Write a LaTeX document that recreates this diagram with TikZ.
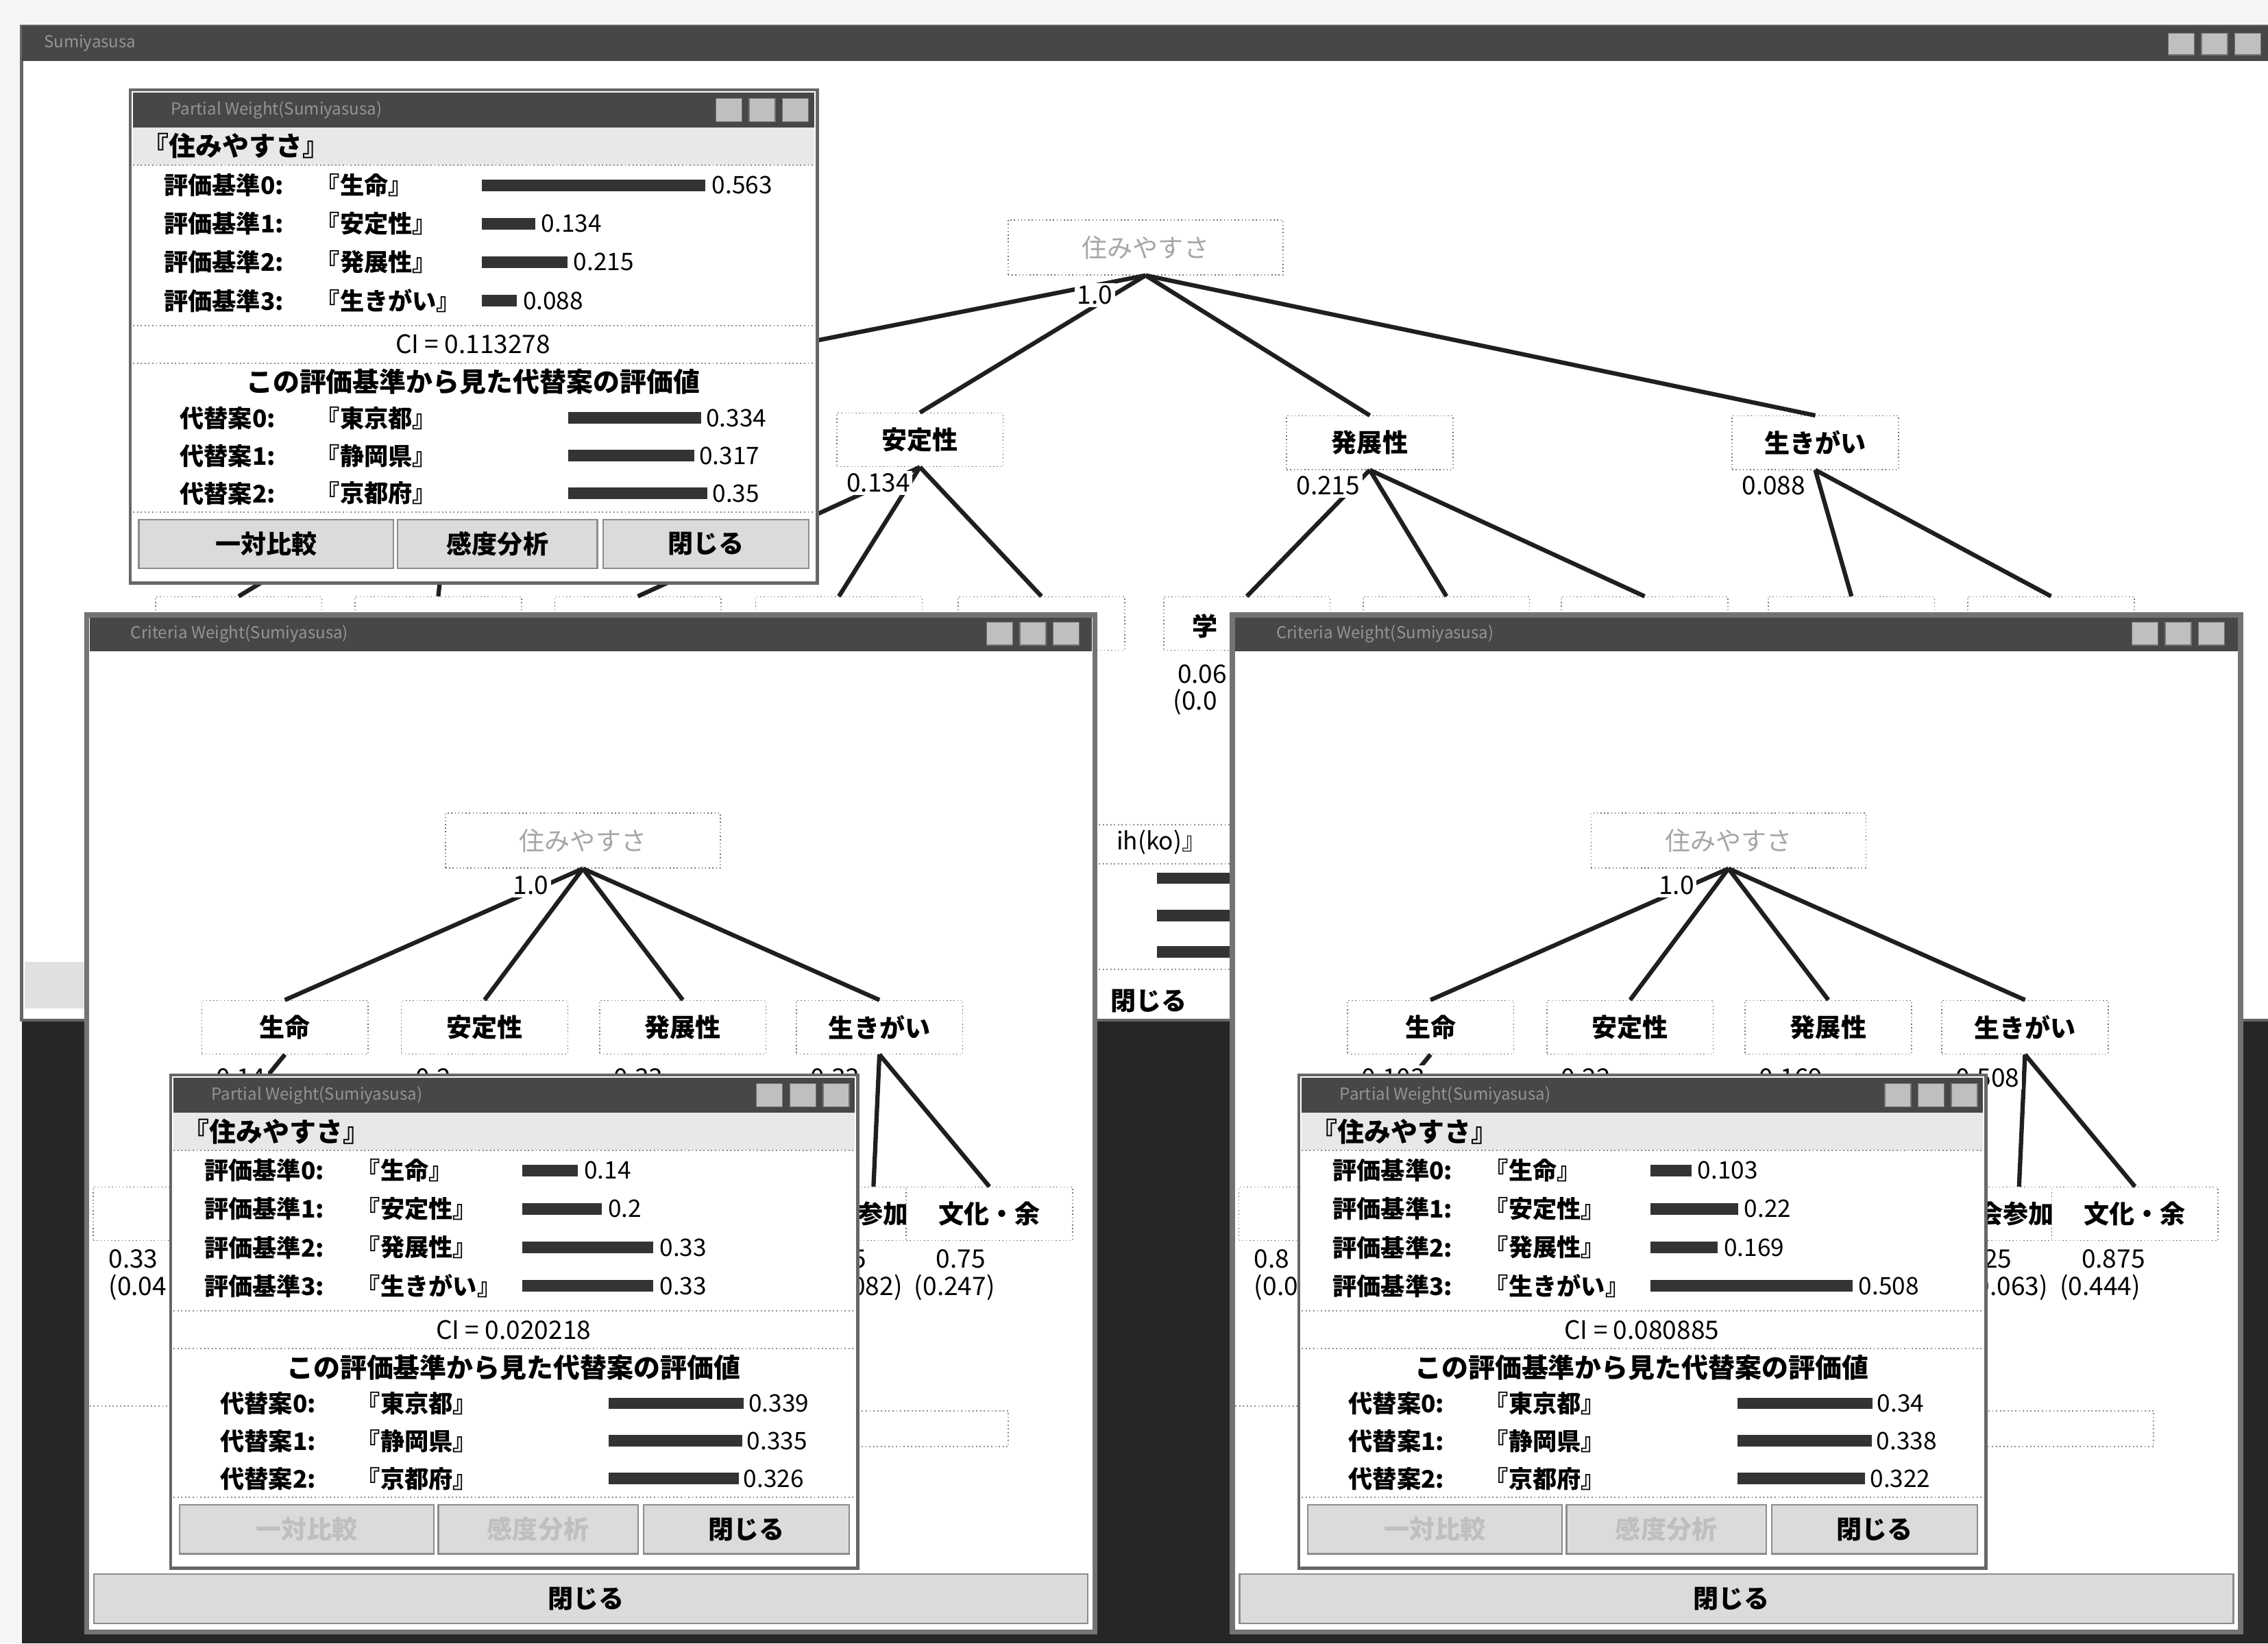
\documentclass[tikz,border=0pt]{standalone}
\usepackage{fontspec}
\setmainfont{Noto Sans CJK JP}
\usetikzlibrary{calc}

\tikzset{
  winborder/.style={draw=black!60, line width=1.2pt, fill=white},
  titlebar/.style={fill=black!72},
  titletext/.style={text=black!42, font=\fontsize{6.5}{7}\selectfont, anchor=west, inner sep=0pt},
  tbutton/.style={fill=black!25, draw=black!55, line width=0.4pt},
  sep/.style={draw=black!45, densely dotted, line width=0.5pt},
  bar/.style={fill=black!80},
  button/.style={fill=black!14, draw=black!45, line width=0.6pt},
  rowtext/.style={anchor=west, inner sep=0pt, font=\fontsize{9.5}{10}\selectfont\bfseries},
  numtext/.style={anchor=west, inner sep=0pt, font=\fontsize{9.5}{10}\selectfont},
  hnode/.style={draw=black!55, densely dotted, fill=white, minimum width=2.3cm,
    minimum height=0.74cm, inner sep=0pt, font=\fontsize{10}{11}\selectfont\bfseries},
  rootnode/.style={hnode, minimum width=3.8cm, minimum height=0.76cm, text=black!35,
    font=\fontsize{10}{11}\selectfont},
  link/.style={line width=1.7pt, draw=black!88},
  val/.style={inner sep=1pt, fill=white, font=\fontsize{10}{11}\selectfont},
}

% window with the weights of the criteria and of the alternatives
\newcommand{\weightwin}[6]{%
  \begin{scope}[shift={#1}]
    \draw[winborder] (0,0) rectangle (475,341);
    \fill[titlebar] (2,2) rectangle (473,26);
    \node[titletext] at (28,14) {#2};
    \foreach \bx in {405,428,451}
      \draw[tbutton] (\bx,6) rectangle ++(18,16);
    \fill[black!9] (2,26) rectangle (473,52);
    \node[rowtext, font=\fontsize{10.5}{11}\selectfont\bfseries] at (8,39) {『住みやすさ』};
    \draw[sep] (2,52) -- (473,52);
    % criteria
    \foreach \nm/\v [count=\k from 0] in {#3} {
      \node[rowtext] at (23,{66+26.6*\k}) {評価基準\k:};
      \node[rowtext] at (128,{66+26.6*\k}) {『\nm』};
      \fill[bar] (243,{62+26.6*\k}) rectangle ({243+\v*275},{70+26.6*\k});
      \node[numtext] at ({247+\v*275},{66+26.6*\k}) {\v};
    }
    \draw[sep] (2,163) -- (473,163);
    \node[font=\fontsize{10}{11}\selectfont] at (237,176) {CI = #4};
    \draw[sep] (2,189) -- (473,189);
    \node[font=\fontsize{10.5}{11}\selectfont\bfseries] at (237,202) {この評価基準から見た代替案の評価値};
    % alternatives
    \foreach \nm/\v [count=\k from 0] in {#5} {
      \node[rowtext] at (34,{227+26*\k}) {代替案\k:};
      \node[rowtext] at (128,{227+26*\k}) {『\nm』};
      \fill[bar] (303,{223+26*\k}) rectangle ({303+\v*275},{231+26*\k});
      \node[numtext] at ({306+\v*275},{227+26*\k}) {\v};
    }
    \draw[sep] (2,292) -- (473,292);
    \draw[button] (6,297) rectangle (182,331);
    \draw[button] (185,297) rectangle (323,331);
    \draw[button] (327,297) rectangle (469,331);
    \node[text=#6, font=\fontsize{10}{11}\selectfont\bfseries] at (94,314) {一対比較};
    \node[text=#6, font=\fontsize{10}{11}\selectfont\bfseries] at (254,314) {感度分析};
    \node[font=\fontsize{10}{11}\selectfont\bfseries] at (398,314) {閉じる};
  \end{scope}}

\begin{document}
\begin{tikzpicture}[x=0.02cm, y=-0.02cm]
  \path[use as bounding box, fill=black!4] (0,0) rectangle (1568,1136);
  % desktop behind the windows
  \fill[black!85] (15,700) rectangle (1568,1136);

  % main window
  \draw[winborder] (15,18) rectangle (1575,705);
  \fill[titlebar] (15,18) rectangle (1568,42);
  \node[titletext] at (30,30) {Sumiyasusa};
  \foreach \bx in {1499,1522,1545}
    \draw[tbutton] (\bx,23) rectangle ++(18,15);
  \fill[black!12] (17,665) rectangle (60,697);

  % hierarchy
  \node[rootnode] (root) at (792,171) {住みやすさ};
  \node[hnode] (inochi) at (313,304) {生命};
  \node[hnode] (antei) at (636,304) {安定性};
  \node[hnode] (hatten) at (947,306) {発展性};
  \node[hnode] (ikigai) at (1255,306) {生きがい};
  \foreach \n/\x in {g1/165, g2/303, g3/441, g4/580, g5/720, g6/862, g7/1000, g8/1137, g9/1280, g10/1418}
    \node[hnode] (\n) at (\x,431) {};
  \node[rowtext, font=\fontsize{10}{11}\selectfont\bfseries] (gaku) at (824,433) {学};
  \foreach \c in {inochi, antei, hatten, ikigai}
    \draw[link] (root.south) -- (\c.north);
  \foreach \a/\b in {inochi/g1, inochi/g2, antei/g3, antei/g4, antei/g5, hatten/g6,
      hatten/g7, hatten/g8, ikigai/g9, ikigai/g10}
    \draw[link] (\a.south) -- (\b.north);
  \node[val] (one) at (757,204) {1.0};
  \node[val, anchor=west] (vantei) at ($(antei.south west)+(5,11)$) {0.134};
  \node[val, anchor=west] (vhatten) at ($(hatten.south west)+(5,11)$) {0.215};
  \node[val, anchor=west] (vikigai) at ($(ikigai.south west)+(5,11)$) {0.088};
  \node[val, anchor=west] (vg6) at (812,466) {0.06};
  \node[val, anchor=west] (pg6) at (809,485) {(0.0};

  % window behind, between the two large ones
  \draw[sep] (757,570) -- (852,570);
  \node[numtext, anchor=east] (shiko) at (834,582) {ih(ko)』};
  \draw[sep] (757,597) -- (852,597);
  \foreach \y in {607,633,658}
    \fill[bar] (800,\y-4) rectangle (870,\y+4);
  \draw[sep] (757,670) -- (852,670);
  \node[font=\fontsize{10}{11}\selectfont\bfseries] (close) at (794,692) {閉じる};

  % partial weights of the goal
  \weightwin{(90,62)}{Partial Weight(Sumiyasusa)}
    {生命/0.563, 安定性/0.134, 発展性/0.215, 生きがい/0.088}{0.113278}
    {東京都/0.334, 静岡県/0.317, 京都府/0.35}{black}

  % two windows with the hierarchy of the criteria
  \foreach \p/\ox/\va/\vb/\vc/\vd/\la/\lb/\ga/\gb/\gc/\gd in
      {L/60/0.14/0.2/0.33/0.33/0.33/0.04/0.25/0.082/0.75/0.247,
       R/852/0.103/0.22/0.169/0.508/0.8/0.0/0.125/0.063/0.875/0.444} {
    \begin{scope}[shift={(\ox,425)}]
      \draw[winborder, line width=2pt, draw=black!55] (0,0) rectangle (697,703);
      \fill[titlebar] (2,2) rectangle (695,25);
      \node[titletext] at (30,13) {Criteria Weight(Sumiyasusa)};
      \foreach \bx in {622,645,668}
        \draw[tbutton] (\bx,5) rectangle ++(18,16);
      \node[rootnode] (\p-root) at (343,156) {住みやすさ};
      \node[hnode] (\p-c1) at (137,285) {生命};
      \node[hnode] (\p-c2) at (275,285) {安定性};
      \node[hnode] (\p-c3) at (412,285) {発展性};
      \node[hnode] (\p-c4) at (548,285) {生きがい};
      \node[hnode] (\p-g1) at (62,414) {};
      \node[hnode] (\p-g2) at (533,414) {社会参加};
      \node[hnode] (\p-g3) at (624,414) {文化・余};
      \foreach \c in {c1,c2,c3,c4}
        \draw[link] (\p-root.south) -- (\p-\c.north);
      \draw[link] (\p-c1.south) -- (\p-g1.north);
      \draw[link] (\p-c4.south) -- (\p-g2.60);
      \draw[link] (\p-c4.south) -- (\p-g3.north);
      \node[val] (\p-one) at (307,187) {1.0};
      \node[val, anchor=west] (\p-v1) at ($(\p-c1.south west)+(8,16)$) {\va};
      \node[val, anchor=west] (\p-v2) at ($(\p-c2.south west)+(8,16)$) {\vb};
      \node[val, anchor=west] (\p-v3) at ($(\p-c3.south west)+(8,16)$) {\vc};
      \node[val, anchor=west] (\p-v4) at ($(\p-c4.south west)+(8,16)$) {\vd};
      \node[val, anchor=west] (\p-l1) at (13,445) {\la};
      \node[val, anchor=west] (\p-l2) at (13,465) {(\lb};
      \node[val, anchor=east] (\p-a1) at (541,445) {\ga};
      \node[val, anchor=east] (\p-a2) at (566,465) {(\gb)};
      \node[val, anchor=west] (\p-b1) at (585,445) {\gc};
      \node[val, anchor=west] (\p-b2) at (570,465) {(\gd)};
      \draw[sep] (2,547) -- (58,547);
      \draw[sep] (500,550) rectangle (637,575);
      \draw[button] (5,663) rectangle (692,697);
      \node[font=\fontsize{10}{11}\selectfont\bfseries] (\p-close) at (345,680) {閉じる};
    \end{scope}
  }

  % partial weights opened from each of them
  \weightwin{(118,743)}{Partial Weight(Sumiyasusa)}
    {生命/0.14, 安定性/0.2, 発展性/0.33, 生きがい/0.33}{0.020218}
    {東京都/0.339, 静岡県/0.335, 京都府/0.326}{black!25}
  \weightwin{(898,743)}{Partial Weight(Sumiyasusa)}
    {生命/0.103, 安定性/0.22, 発展性/0.169, 生きがい/0.508}{0.080885}
    {東京都/0.34, 静岡県/0.338, 京都府/0.322}{black!25}
\end{tikzpicture}
\end{document}
